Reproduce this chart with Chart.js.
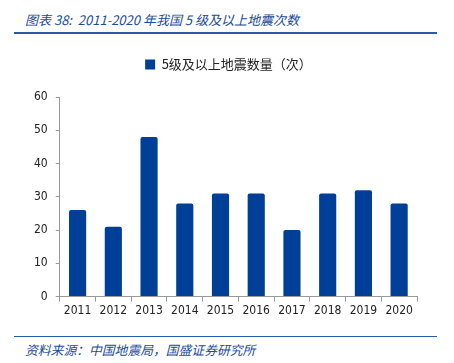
<!DOCTYPE html>
<html>
<head>
<meta charset="utf-8">
<script src="https://cdn.jsdelivr.net/npm/chart.js@4.4.0/dist/chart.umd.min.js"></script>
<style>
  body { margin: 0; background: #fff; width: 454px; height: 363px; position: relative; overflow: hidden; }
  .title { position: absolute; left: 25px; top: 10px; font: italic 13px "Noto Sans CJK SC", sans-serif; color: #1c4b9c; white-space: nowrap; }
  .rule { position: absolute; left: 14px; width: 423px; height: 2px; background: #2a5aa5; }
  .source { position: absolute; left: 25px; top: 340px; font: italic 12.8px "Noto Sans CJK SC", sans-serif; color: #1c4b9c; white-space: nowrap; }
  #wrap { position: absolute; left: 0; top: 48px; width: 454px; height: 280px; }
</style>
</head>
<body>
<div class="title">图表 38:&nbsp; 2011-2020 年我国 5 级及以上地震次数</div>
<div class="rule" style="top:32px"></div>
<div id="wrap"><canvas id="quakeChart"></canvas></div>
<div class="rule" style="top:336px; height:1px"></div>
<div class="source">资料来源：中国地震局，国盛证券研究所</div>
<script>
// years and yearly count of M5+ earthquakes
const years = ['2011', '2012', '2013', '2014', '2015', '2016', '2017', '2018', '2019', '2020'];
const quakeCounts = [26, 21, 48, 28, 31, 31, 20, 31, 32, 28];
const seriesName = '5级及以上地震数量（次）';

const tickFont = { family: '"DejaVu Sans Condensed", "Liberation Sans", sans-serif', size: 12 };

// push the plot down under the legend, and nudge the legend right a little
const legendGap = {
    id: 'legendGap',
    beforeInit(chart) {
        const fit = chart.legend.fit;
        chart.legend.fit = function () {
            fit.bind(chart.legend)();
            this.height += 16;
        };
    },
    afterUpdate(chart) {
        chart.legend.left += 7;
        chart.legend.right += 7;
    }
};

const ctx = document.getElementById('quakeChart').getContext('2d');
const quakeChart = new Chart(ctx, {
    type: 'bar',
    data: {
        labels: years,
        datasets: [{
            label: seriesName,
            data: quakeCounts,
            backgroundColor: '#003f98',
            borderRadius: 2,
            categoryPercentage: 1,
            barPercentage: 0.48
        }]
    },
    options: {
        responsive: true,
        maintainAspectRatio: false,
        animation: false,
        layout: { padding: { left: 26, right: 37, top: 0, bottom: 8 } },
        plugins: {
            legend: {
                labels: {
                    boxWidth: 10, boxHeight: 10, color: '#222',
                    font: { family: '"Noto Sans CJK SC", sans-serif', size: 13 }
                }
            },
            tooltip: { enabled: false }
        },
        scales: {
            x: {
                grid: { drawOnChartArea: false, color: '#999', tickLength: 5 },
                border: { color: '#999' },
                ticks: { color: '#222', font: tickFont, padding: 2 }
            },
            y: {
                min: 0, max: 60,
                ticks: { stepSize: 10, color: '#222', font: tickFont, padding: 8 },
                grid: { drawOnChartArea: false, color: '#999', tickLength: 4 },
                border: { color: '#999' }
            }
        }
    },
    plugins: [legendGap]
});
</script>
</body>
</html>
